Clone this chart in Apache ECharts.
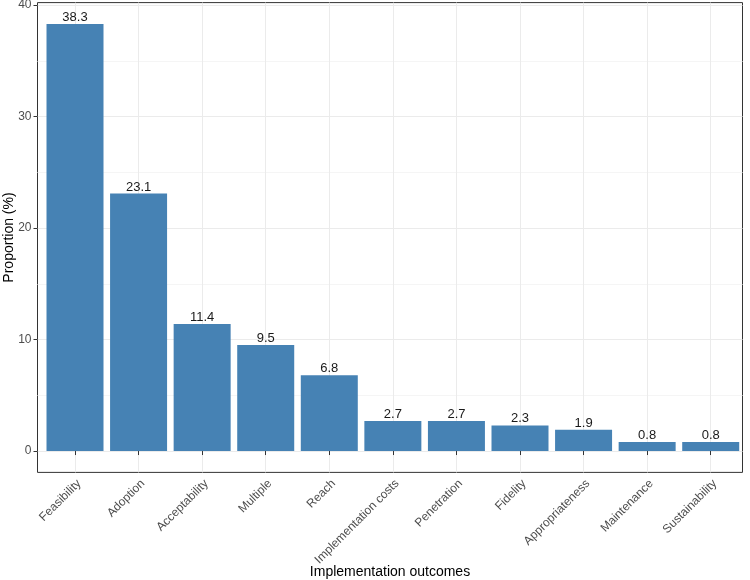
<!DOCTYPE html>
<html>
<head>
<meta charset="utf-8">
<script src="https://cdn.jsdelivr.net/npm/echarts@6/dist/echarts.min.js"></script>
<style>
  html, body { margin: 0; padding: 0; background: #fff; }
  #chart { width: 750px; height: 580px; }
</style>
</head>
<body>
<div id="chart"></div>
<script>
const outcomes = ['Feasibility', 'Adoption', 'Acceptability', 'Multiple', 'Reach',
  'Implementation costs', 'Penetration', 'Fidelity', 'Appropriateness', 'Maintenance', 'Sustainability'];
const proportions = [38.3, 23.1, 11.4, 9.5, 6.8, 2.7, 2.7, 2.3, 1.9, 0.8, 0.8];
const yMajor = [0, 10, 20, 30, 40];
const yMinor = [5, 15, 25, 35];

const positions = outcomes.map((_, i) => i + 1);
const font = 'Liberation Sans, Arial, sans-serif';

const chart = echarts.init(document.getElementById('chart'));
chart.setOption({
  animation: false,
  textStyle: { fontFamily: font },
  grid: {
    left: 37.5, right: 7.5, top: 2.6, bottom: 107.6,
    show: true, borderColor: '#333', borderWidth: 1, backgroundColor: '#fff',
    containLabel: false,
    outerBoundsMode: 'none'
  },
  xAxis: {
    type: 'value',
    min: 0.41,
    max: 11.5,
    name: 'Implementation outcomes',
    nameLocation: 'middle',
    nameGap: 93,
    nameMoveOverlap: false,
    nameTextStyle: { fontSize: 14, color: '#000', fontFamily: font },
    axisLine: { show: false },
    axisTick: { show: true, length: 4, lineStyle: { color: '#333' }, customValues: positions },
    axisLabel: {
      customValues: positions,
      rotate: 45,
      margin: 5,
      verticalAlign: 'top',
      fontSize: 12,
      color: '#4d4d4d',
      formatter: v => outcomes[Math.round(v) - 1]
    },
    splitLine: { show: true, lineStyle: { color: '#ebebeb', width: 1 } }
  },
  yAxis: [{
    type: 'value',
    min: -1.915,
    max: 40.215,
    name: 'Proportion (%)',
    nameLocation: 'middle',
    nameGap: 21,
    nameRotate: 90,
    nameMoveOverlap: false,
    nameTextStyle: { fontSize: 14, color: '#000', fontFamily: font },
    axisLine: { show: false },
    axisTick: { show: true, length: 4, lineStyle: { color: '#333' }, customValues: yMajor },
    axisLabel: { customValues: yMajor, margin: 6, fontSize: 12, color: '#4d4d4d' },
    splitLine: { show: true, lineStyle: { color: '#ebebeb', width: 1 } }
  }, {
    type: 'value',
    min: -1.915,
    max: 40.215,
    position: 'left',
    axisLine: { show: false },
    axisTick: { show: false, customValues: yMinor },
    axisLabel: { show: false },
    splitLine: { show: true, lineStyle: { color: '#f5f5f5', width: 1 } }
  }],
  series: [{
    type: 'bar',
    data: positions.map((x, i) => [x, proportions[i]]),
    barWidth: 57,
    itemStyle: { color: '#4682b4' },
    label: {
      show: true,
      position: 'top',
      distance: 0,
      fontSize: 13,
      color: '#1a1a1a',
      formatter: p => p.value[1].toFixed(1)
    }
  }]
});
</script>
</body>
</html>
